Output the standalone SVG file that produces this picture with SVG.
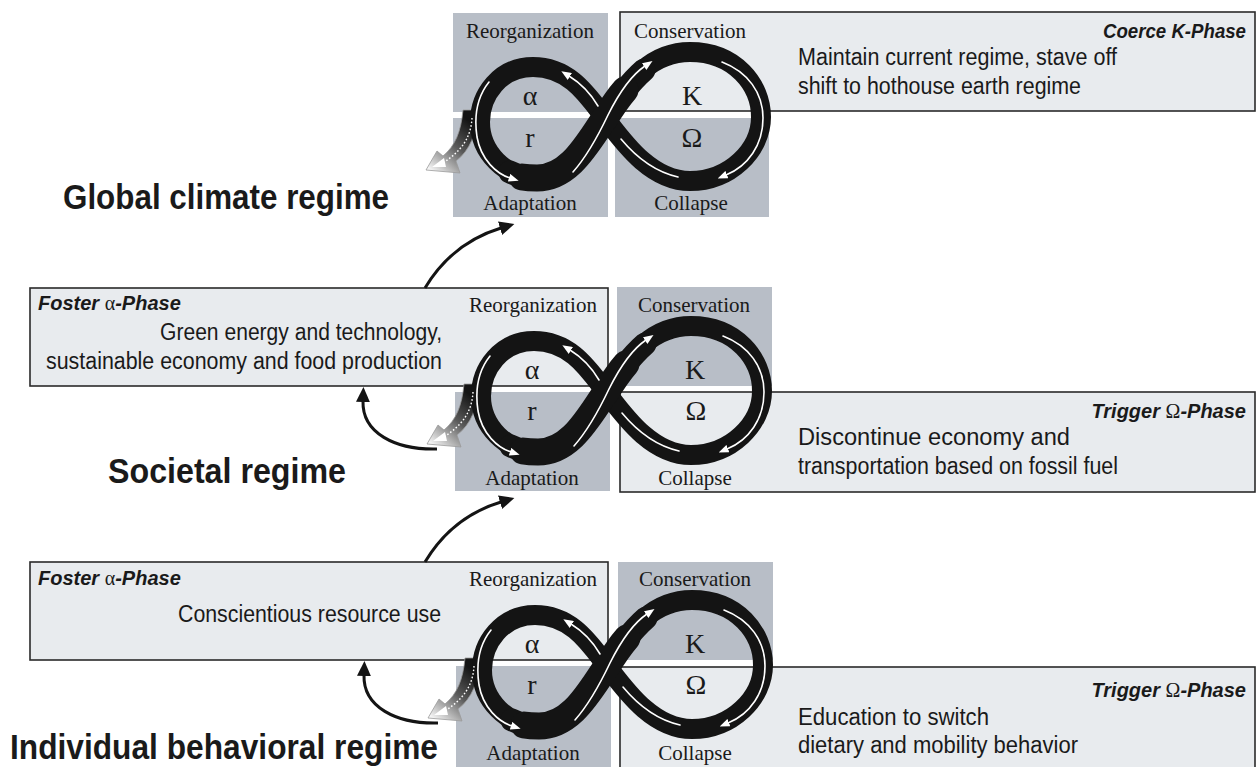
<svg xmlns="http://www.w3.org/2000/svg" xmlns:xlink="http://www.w3.org/1999/xlink" width="1259" height="767" viewBox="0 0 1259 767">
<style>
  .gray { fill: #b8bec7; }
  .light { fill: #e8ebee; stroke: #2a2a2a; stroke-width: 1.6; }
  .lbl { font-family: "Liberation Serif", "Times New Roman", serif; font-size: 21px; fill: #1a1a1a; text-anchor: middle; }
  .gk { font-family: "Liberation Serif", "Times New Roman", serif; font-size: 28px; fill: #1a1a1a; text-anchor: middle; }
  .ph { font-family: "Liberation Sans", Arial, sans-serif; font-size: 20px; font-weight: bold; font-style: italic; fill: #1a1a1a; }
  .phg { font-family: "Liberation Serif", "Times New Roman", serif; font-weight: normal; font-style: normal; }
  .body { font-family: "Liberation Sans", Arial, sans-serif; font-size: 23px; fill: #1a1a1a; }
  .big { font-family: "Liberation Sans", Arial, sans-serif; font-size: 32px; font-weight: bold; fill: #1a1a1a; }
  .band { fill: none; stroke: #141414; stroke-linejoin: round; stroke-linecap: round; }
  .wl { fill: none; stroke: #ffffff; stroke-width: 1.6; stroke-linecap: round; }
  .conn { fill: none; stroke: #141414; stroke-width: 3; }
</style>
<defs>
  <marker id="wh" markerUnits="userSpaceOnUse" markerWidth="10" markerHeight="8" refX="1" refY="4" orient="auto">
    <path d="M0,0 L10,4 L0,8 Z" fill="#ffffff"/>
  </marker>
  <marker id="blk" markerUnits="userSpaceOnUse" markerWidth="16" markerHeight="14" refX="1" refY="7" orient="auto">
    <path d="M0,0 L15,7 L0,14 Z" fill="#141414"/>
  </marker>
  <linearGradient id="tailGrad" gradientUnits="userSpaceOnUse" x1="470" y1="122" x2="430" y2="170">
    <stop offset="0" stop-color="#141414"/>
    <stop offset="0.45" stop-color="#5a5a5a"/>
    <stop offset="1" stop-color="#f6f6f6"/>
  </linearGradient>
  <g id="loop">
    <path d="M477,110 C477,134 470,150 456,161 L460,173 L426,170 L437,151 L443,156 C455,146 461,132 463,110 Z" fill="url(#tailGrad)" stroke="#9a9a9a" stroke-width="0.8"/>
    <path class="band" stroke-width="20" d="M605,118 C625,90 645,52 690,52 C735,52 761,85 761,117 C761,150 730,181 690,181 C650,181 622,140 605,118 C588,96 570,67 533,67 C500,67 480,95 480,122 C480,152 505,178 537,178 C570,178 588,142 605,118 Z"/>
    <path class="band" stroke-width="23" d="M510,172 C520,177 530,178 537,178 C570,178 588,142 605,118 C616,102 628,84 644,70"/>
    <path class="band" stroke-width="27" d="M522,177 C528,178 533,178 537,178 C570,178 588,142 605,118 C612,107 618,98 625,90"/>
    <path d="M472,118 C471,136 463,151 441,164" fill="none" stroke="#ffffff" stroke-width="1.4" stroke-dasharray="1.6 2"/>
    <path d="M444,158 L432,167 L446,167 Z" fill="#ffffff"/>
    <path class="wl" d="M489,82 C477,97 474,117 477,137 C481,160 497,174 510,178" marker-end="url(#wh)"/>
    <path class="wl" d="M573,172 C588,155 598,136 608,115 C619,93 630,76 645,66" marker-end="url(#wh)"/>
    <path class="wl" d="M722,62 C748,72 763,93 763,118 C763,145 748,166 726,175" marker-end="url(#wh)"/>
    <path class="wl" d="M621,139 C636,157 656,172 678,177"/>
    <path class="wl" d="M598,106 C591,94 582,84 569,76" marker-end="url(#wh)"/>
  </g>
</defs>

<!-- Global climate regime level -->
<g id="global-level">
  <g id="global-reorganization">
    <rect class="gray" x="453" y="13" width="155" height="99"/>
    <text class="lbl" x="530" y="38">Reorganization</text>
  </g>
  <g id="global-adaptation">
    <rect class="gray" x="453" y="118" width="155" height="99"/>
  </g>
  <g id="global-collapse">
    <rect class="gray" x="615" y="118" width="154" height="99"/>
  </g>
  <g id="global-conservation">
    <rect class="light" x="620" y="12" width="635" height="99"/>
    <text class="lbl" x="690" y="38">Conservation</text>
    <text class="ph" x="1246" y="38" text-anchor="end" textLength="143" lengthAdjust="spacingAndGlyphs">Coerce K-Phase</text>
    <text class="body" x="798" y="65" textLength="319" lengthAdjust="spacingAndGlyphs">Maintain current regime, stave off</text>
    <text class="body" x="798" y="94" textLength="283" lengthAdjust="spacingAndGlyphs">shift to hothouse earth regime</text>
  </g>
  <g id="global-cycle">
    <use xlink:href="#loop" href="#loop"/>
    <text class="gk" x="530" y="105">α</text>
    <text class="gk" x="692" y="105">K</text>
    <text class="gk" x="530" y="147">r</text>
    <text class="gk" x="692" y="147">Ω</text>
    <text class="lbl" x="530" y="210">Adaptation</text>
    <text class="lbl" x="691" y="210">Collapse</text>
  </g>
  <g id="global-title">
    <text class="big" transform="translate(63,209) scale(1,1.12)" x="0" y="0" textLength="326" lengthAdjust="spacingAndGlyphs">Global climate regime</text>
  </g>
</g>

<!-- Societal regime level -->
<g id="societal-level">
  <g id="societal-reorganization">
    <rect class="light" x="30" y="288" width="578" height="98"/>
    <text class="lbl" x="533" y="312">Reorganization</text>
    <text class="ph" x="38" y="310">Foster <tspan class="phg">α</tspan>-Phase</text>
    <text class="body" x="442" y="340" text-anchor="end" textLength="282" lengthAdjust="spacingAndGlyphs">Green energy and technology,</text>
    <text class="body" x="442" y="369" text-anchor="end" textLength="396" lengthAdjust="spacingAndGlyphs">sustainable economy and food production</text>
  </g>
  <g id="societal-conservation">
    <rect class="gray" x="617" y="287" width="155" height="99"/>
  </g>
  <g id="societal-adaptation">
    <rect class="gray" x="455" y="392" width="155" height="99"/>
  </g>
  <g id="societal-collapse">
    <rect class="light" x="620" y="392" width="635" height="100"/>
    <text class="ph" x="1246" y="418" text-anchor="end">Trigger <tspan class="phg">Ω</tspan>-Phase</text>
    <text class="body" x="798" y="445" textLength="272" lengthAdjust="spacingAndGlyphs">Discontinue economy and</text>
    <text class="body" x="798" y="474" textLength="320" lengthAdjust="spacingAndGlyphs">transportation based on fossil fuel</text>
  </g>
  <g id="societal-cycle">
    <use xlink:href="#loop" href="#loop" transform="translate(1,274)"/>
    <text class="lbl" x="694" y="312">Conservation</text>
    <text class="gk" x="532" y="379">α</text>
    <text class="gk" x="695" y="379">K</text>
    <text class="gk" x="532" y="420">r</text>
    <text class="gk" x="696" y="420">Ω</text>
    <text class="lbl" x="532" y="485">Adaptation</text>
    <text class="lbl" x="695" y="485">Collapse</text>
  </g>
  <g id="societal-title">
    <text class="big" transform="translate(108,483) scale(1,1.12)" x="0" y="0" textLength="238" lengthAdjust="spacingAndGlyphs">Societal regime</text>
  </g>
</g>

<!-- Individual behavioral regime level -->
<g id="individual-level">
  <g id="individual-reorganization">
    <rect class="light" x="30" y="562" width="578" height="98"/>
    <text class="lbl" x="533" y="586">Reorganization</text>
    <text class="ph" x="38" y="585">Foster <tspan class="phg">α</tspan>-Phase</text>
    <text class="body" x="441" y="622" text-anchor="end" textLength="263" lengthAdjust="spacingAndGlyphs">Conscientious resource use</text>
  </g>
  <g id="individual-conservation">
    <rect class="gray" x="618" y="562" width="155" height="98"/>
  </g>
  <g id="individual-adaptation">
    <rect class="gray" x="456" y="666" width="155" height="110"/>
  </g>
  <g id="individual-collapse">
    <rect class="light" x="620" y="667" width="635" height="110"/>
    <text class="ph" x="1246" y="697" text-anchor="end">Trigger <tspan class="phg">Ω</tspan>-Phase</text>
    <text class="body" x="798" y="725" textLength="191" lengthAdjust="spacingAndGlyphs">Education to switch</text>
    <text class="body" x="798" y="753" textLength="280" lengthAdjust="spacingAndGlyphs">dietary and mobility behavior</text>
  </g>
  <g id="individual-cycle">
    <use xlink:href="#loop" href="#loop" transform="translate(2,548)"/>
    <text class="lbl" x="695" y="586">Conservation</text>
    <text class="gk" x="532" y="653">α</text>
    <text class="gk" x="695" y="653">K</text>
    <text class="gk" x="532" y="694">r</text>
    <text class="gk" x="696" y="694">Ω</text>
    <text class="lbl" x="533" y="760">Adaptation</text>
    <text class="lbl" x="695" y="760">Collapse</text>
  </g>
  <g id="individual-title">
    <text class="big" transform="translate(10,759) scale(1,1.12)" x="0" y="0" textLength="428" lengthAdjust="spacingAndGlyphs">Individual behavioral regime</text>
  </g>
</g>

<!-- Connectors -->
<g id="connectors">
  <path class="conn" d="M425,288 C443,258 468,238 501,228" marker-end="url(#blk)"/>
  <path class="conn" d="M425,562 C443,532 468,512 501,502" marker-end="url(#blk)"/>
  <path class="conn" d="M437,449 C395,450 362,433 363,401" marker-end="url(#blk)"/>
  <path class="conn" d="M438,723 C396,724 363,707 364,675" marker-end="url(#blk)"/>
</g>
</svg>
